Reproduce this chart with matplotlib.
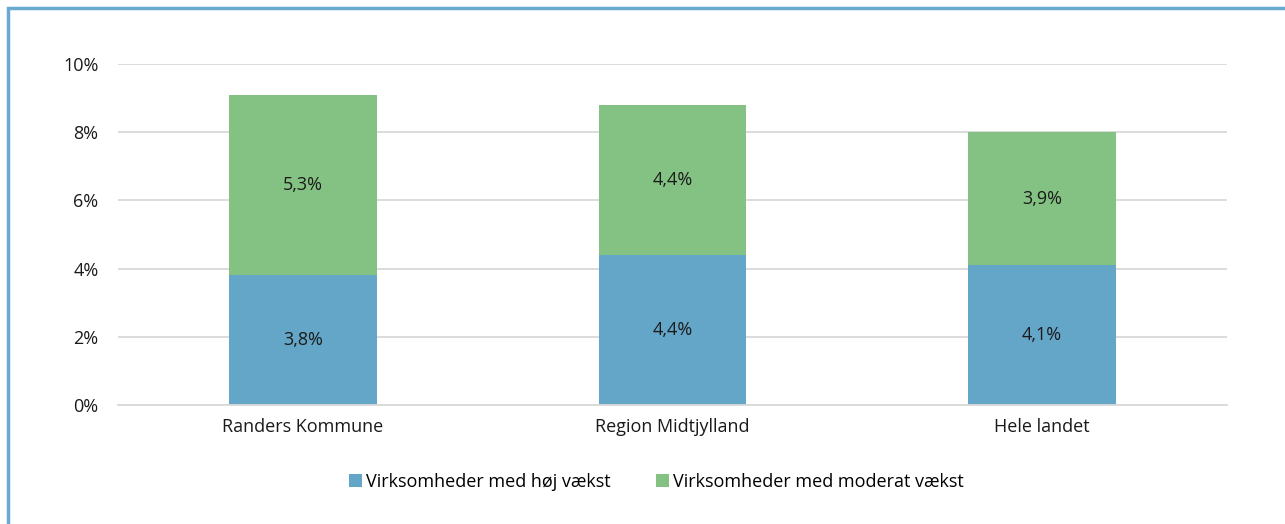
import numpy as np
import matplotlib.pyplot as plt
from matplotlib.patches import Rectangle

plt.rcParams['font.family'] = ['Open Sans', 'DejaVu Sans']

categories = ["Randers Kommune", "Region Midtjylland", "Hele landet"]
hoj_vaekst = [3.8, 4.4, 4.1]
moderat_vaekst = [5.3, 4.4, 3.9]
series_names = ["Virksomheder med høj vækst", "Virksomheder med moderat vækst"]
y_ticks = [0, 2, 4, 6, 8, 10]

blue = "#64a6c8"
green = "#84c283"
fs = 13

fig = plt.figure(figsize=(12.85, 5.24), dpi=100)
ax = fig.add_axes([118 / 1285, 1 - 405 / 524, (1227 - 118) / 1285, (405 - 64) / 524])

x = np.arange(len(categories))
b1 = ax.bar(x, hoj_vaekst, width=0.4, color=blue, label=series_names[0], zorder=2)
b2 = ax.bar(x, moderat_vaekst, width=0.4, bottom=hoj_vaekst, color=green,
            label=series_names[1], zorder=2)

def fmt(v):
    return f"{v:.1f}%".replace(".", ",")

for bars, vals, bottoms in [(b1, hoj_vaekst, [0] * 3), (b2, moderat_vaekst, hoj_vaekst)]:
    for rect, v, b in zip(bars, vals, bottoms):
        ax.text(rect.get_x() + rect.get_width() / 2, b + v / 2, fmt(v),
                ha="center", va="center", fontsize=fs, color="#1a1a1a", zorder=3)

ax.set_xlim(-0.5, 2.5)
ax.set_ylim(0, 10)
ax.set_yticks(y_ticks)
ax.set_yticklabels([f"{t}%" for t in y_ticks])
ax.set_xticks(x)
ax.set_xticklabels(categories)
ax.grid(axis="y", color="#d9d9d9", linewidth=1.3, zorder=0)
ax.tick_params(axis="both", length=0, labelsize=fs, colors="#1a1a1a")
ax.tick_params(axis="y", pad=14)
ax.tick_params(axis="x", pad=9)
for s in ["top", "right", "left"]:
    ax.spines[s].set_visible(False)
ax.spines["bottom"].set_color("#d9d9d9")
ax.spines["bottom"].set_linewidth(1.3)

fig.legend(loc="center", bbox_to_anchor=(656 / 1285, 1 - 482 / 524), ncol=2,
           frameon=False, fontsize=fs, handlelength=0.75, handleheight=0.75,
           handletextpad=0.2, columnspacing=2.5)

# outer frame
fig.patches.append(Rectangle((8 / 1285, -0.05), 1.1, 1 - 8 / 524 + 0.05,
                             transform=fig.transFigure, fill=False,
                             edgecolor="#6aaad0", linewidth=2.5))

fig.savefig("out.png", dpi=100)
